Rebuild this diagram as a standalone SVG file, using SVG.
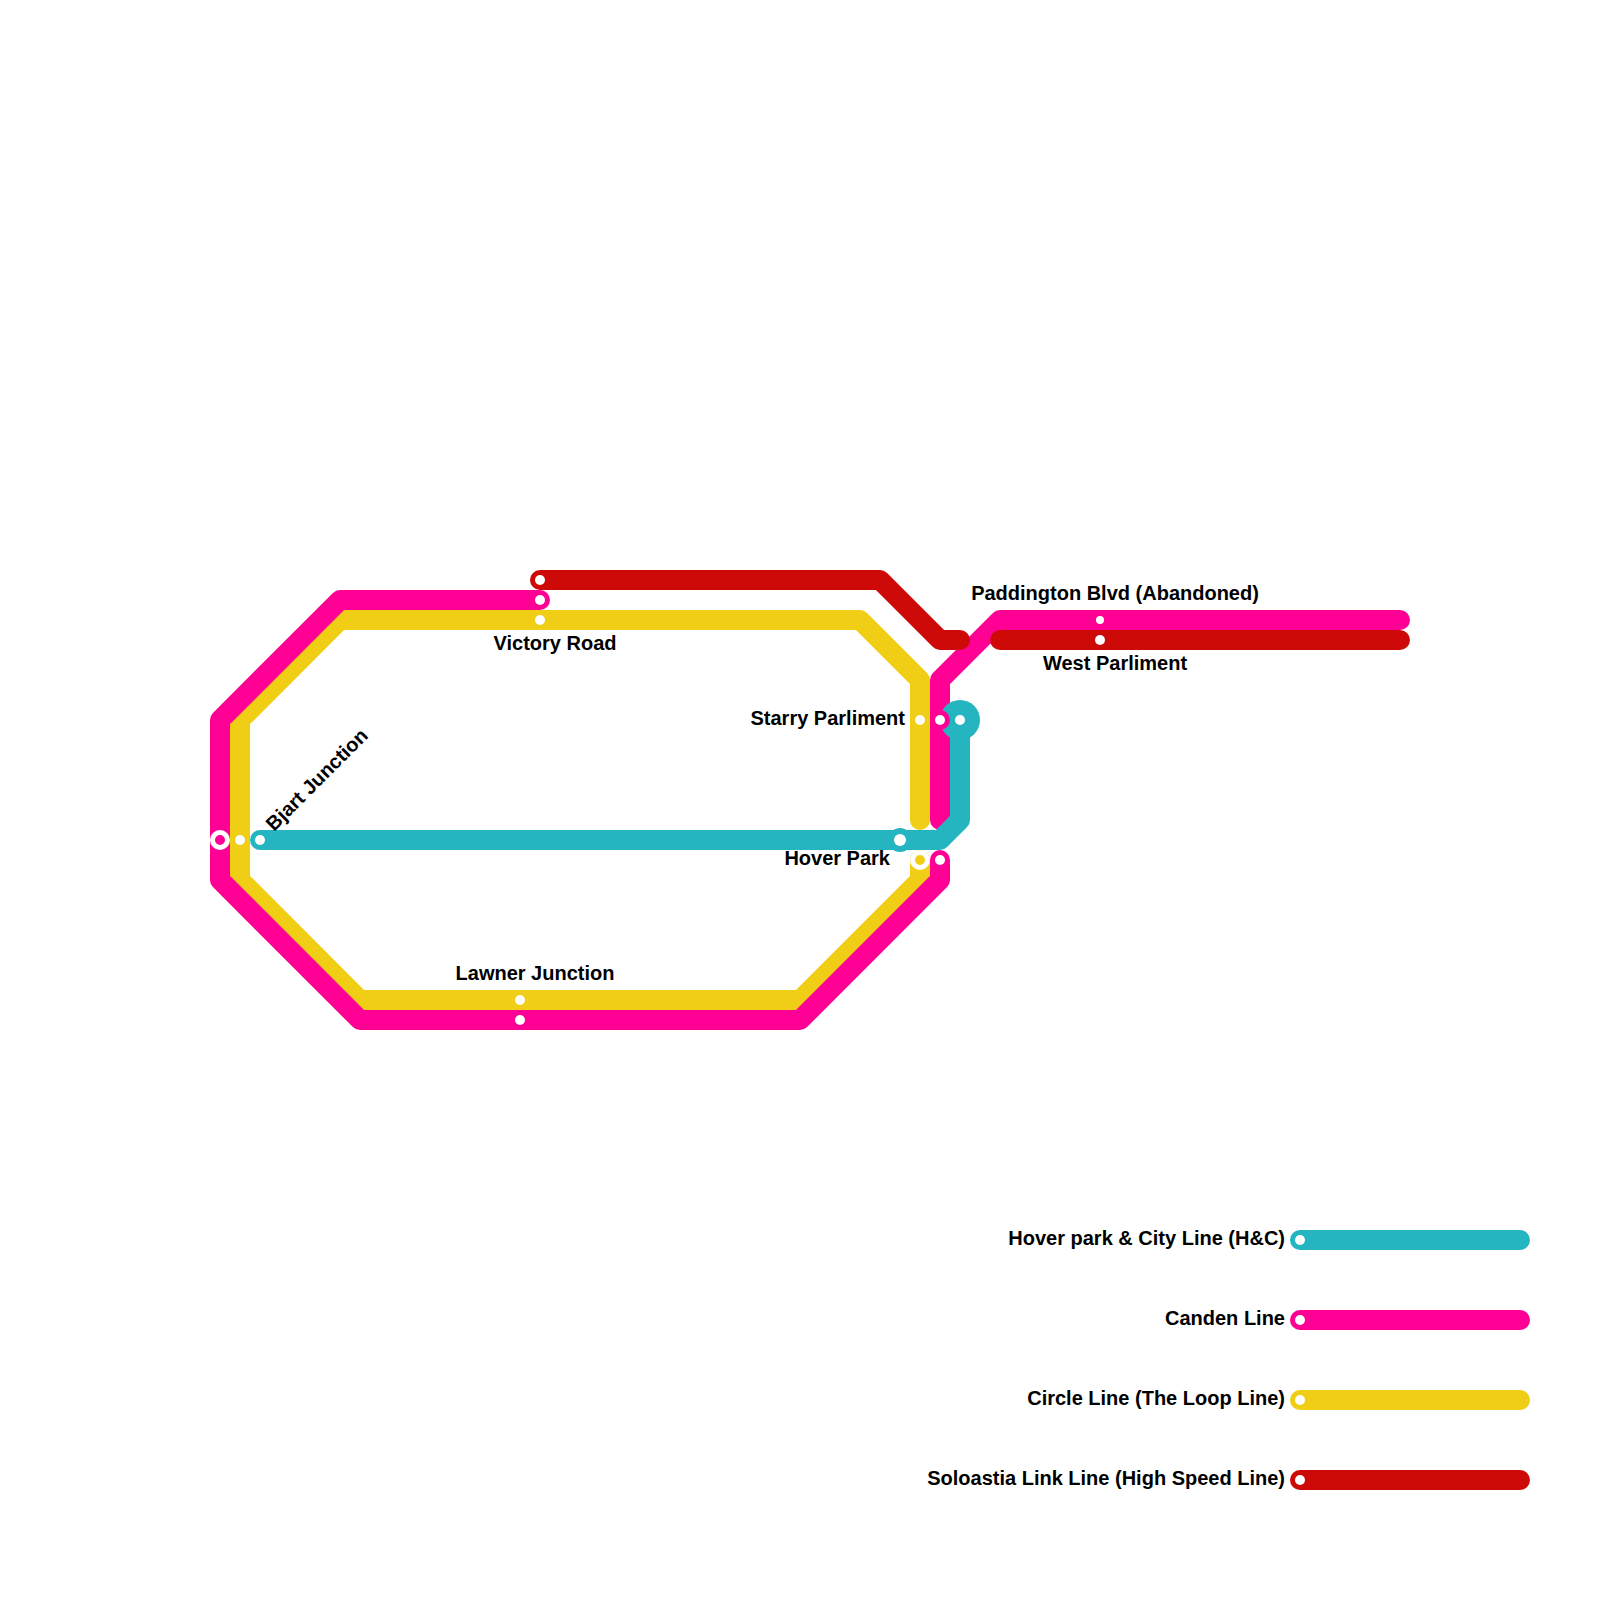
<svg xmlns="http://www.w3.org/2000/svg" width="1600" height="1600" viewBox="0 0 1600 1600">
<style>
.l{fill:none;stroke-width:20;stroke-linecap:round;stroke-linejoin:round}
.t{stroke:#25b5c1}.p{stroke:#ff0095}.y{stroke:#f0ce15}.r{stroke:#cd0a08}
.d{fill:#fff}
text{font-family:"Liberation Sans",Arial,sans-serif;font-weight:bold;font-size:20px;fill:#000}
.e{text-anchor:end}.m{text-anchor:middle}
</style>
<rect width="1600" height="1600" fill="#fff"/>
<g id="connectors">
<path class="l y" d="M920 820V680L860 620H340L240 720V880L360 1000H800L920 880V860"/>
<path class="l y" d="M1300 1400H1520"/>
<path class="l p" d="M540 600H340L220 720V880L360 1020H800L940 880V860"/>
<path class="l p" d="M1400 620H1000L940 680V820"/>
<path class="l p" d="M1300 1320H1520"/>
<path class="l r" d="M540 580H880L940 640H960"/>
<path class="l r" d="M1000 640H1400"/>
<path class="l r" d="M1300 1480H1520"/>
<path class="l t" d="M260 840H940L960 820V720"/>
<path class="l t" d="M1300 1240H1520"/>
</g>
<g id="bjart-junction">
<circle cx="220" cy="840" r="7.5" fill="#ff0095" stroke="#fff" stroke-width="5"/>
<circle class="d" cx="240" cy="840" r="5"/>
<circle class="d" cx="260" cy="840" r="5"/>
<text x="274" y="832" transform="rotate(-45 274 832)">Bjart Junction</text>
</g>
<g id="victory-road">
<circle class="d" cx="540" cy="580" r="5"/>
<circle class="d" cx="540" cy="600" r="5"/>
<circle class="d" cx="540" cy="620" r="5"/>
<text class="m" x="555" y="650">Victory Road</text>
</g>
<g id="lawner-junction">
<circle class="d" cx="520" cy="1000" r="5"/>
<circle class="d" cx="520" cy="1020" r="5"/>
<text class="m" x="535" y="980">Lawner Junction</text>
</g>
<g id="starry-parliment">
<circle cx="960" cy="720" r="20" fill="#25b5c1"/>
<circle cx="940" cy="720" r="10" fill="#ff0095"/>
<circle class="d" cx="920" cy="720" r="5"/>
<circle class="d" cx="940" cy="720" r="5"/>
<circle class="d" cx="960" cy="720" r="5"/>
<text class="e" x="905" y="725">Starry Parliment</text>
</g>
<g id="hover-park">
<circle cx="900" cy="840" r="12" fill="#25b5c1"/>
<circle class="d" cx="900" cy="840" r="6"/>
<circle cx="920" cy="860" r="7.5" fill="#f0ce15" stroke="#fff" stroke-width="5"/>
<circle class="d" cx="940" cy="860" r="5"/>
<text class="e" x="890" y="865">Hover Park</text>
</g>
<g id="paddington-blvd">
<circle class="d" cx="1100" cy="620" r="4"/>
<text class="m" x="1115" y="600">Paddington Blvd (Abandoned)</text>
</g>
<g id="west-parliment">
<circle class="d" cx="1100" cy="640" r="5"/>
<text class="m" x="1115" y="670">West Parliment</text>
</g>
<g id="legend-hc"><circle class="d" cx="1300" cy="1240" r="5"/><text class="e" x="1285" y="1245">Hover park &amp; City Line (H&amp;C)</text></g>
<g id="legend-canden"><circle class="d" cx="1300" cy="1320" r="5"/><text class="e" x="1285" y="1325">Canden Line</text></g>
<g id="legend-circle"><circle class="d" cx="1300" cy="1400" r="5"/><text class="e" x="1285" y="1405">Circle Line (The Loop Line)</text></g>
<g id="legend-soloastia"><circle class="d" cx="1300" cy="1480" r="5"/><text class="e" x="1285" y="1485">Soloastia Link Line (High Speed Line)</text></g>
</svg>
